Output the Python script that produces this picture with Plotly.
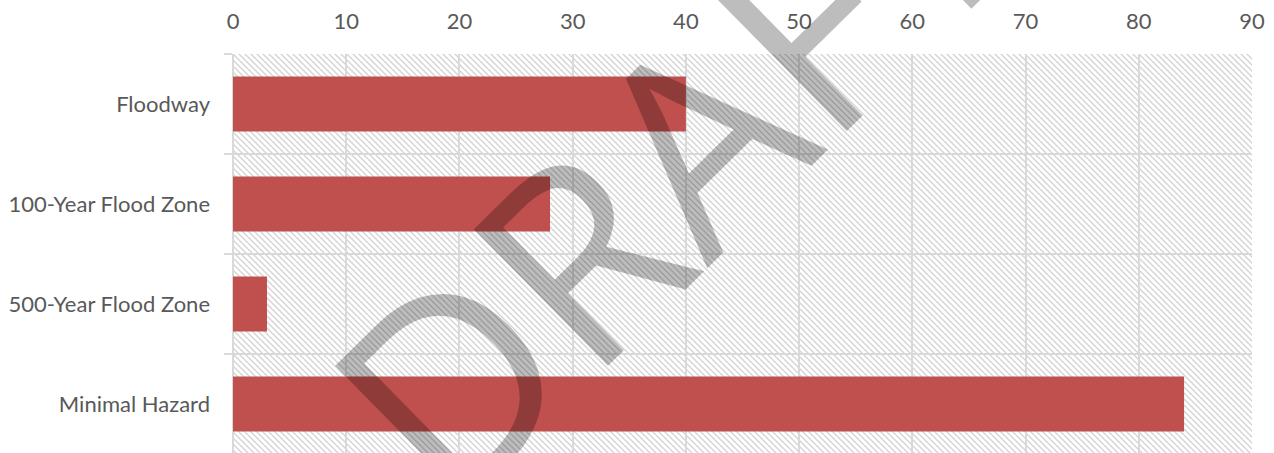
import base64
import plotly.graph_objects as go

# Mapped area by flood hazard category
categories = ["Floodway", "100-Year Flood Zone", "500-Year Flood Zone", "Minimal Hazard"]
values = [40, 28, 3, 84]
x_ticks = [0, 10, 20, 30, 40, 50, 60, 70, 80, 90]

W, H = 1274, 453
ML, MR, MT, MB = 233, 22, 54, 0
PW, PH = W - ML - MR, H - MT - MB

TEXT = "#595959"
GRID = "#d9d9d9"
BAR = "#c0504d"

# Diagonal hatch used as the plot-area fill
hatch_svg = f"""<svg xmlns='http://www.w3.org/2000/svg' width='{PW}' height='{PH}'>
<defs><pattern id='h' width='6' height='6' patternUnits='userSpaceOnUse'>
<path d='M0,0 L6,6 M-1,5 L1,7 M5,-1 L7,1' stroke='#d2d2d2' stroke-width='1.3'/>
</pattern></defs>
<rect width='100%' height='100%' fill='white'/>
<rect width='100%' height='100%' fill='url(#h)'/>
</svg>"""
hatch_src = "data:image/svg+xml;base64," + base64.b64encode(hatch_svg.encode()).decode()

fig = go.Figure(
    go.Bar(
        y=categories,
        x=values,
        orientation="h",
        width=0.55,
        marker=dict(color=BAR, line=dict(width=0)),
        hoverinfo="x+y",
    )
)

fig.update_layout(
    width=W,
    height=H,
    margin=dict(l=ML, r=MR, t=MT, b=MB, pad=0),
    paper_bgcolor="white",
    plot_bgcolor="rgba(0,0,0,0)",
    showlegend=False,
    font=dict(family="Lato, 'Open Sans', sans-serif", size=22, color=TEXT),
    images=[
        dict(
            source=hatch_src,
            xref="paper",
            yref="paper",
            x=0,
            y=1,
            sizex=1,
            sizey=1,
            xanchor="left",
            yanchor="top",
            sizing="stretch",
            layer="below",
        )
    ],
    annotations=[
        dict(
            text="DRAFT",
            xref="paper",
            yref="paper",
            x=(668 - ML) / PW,
            y=(H - 161) / PH,
            showarrow=False,
            textangle=-44.5,
            font=dict(family="'Open Sans', sans-serif", size=268, weight=380,
                      color="rgba(0,0,0,0.26)"),
            xanchor="center",
            yanchor="middle",
        )
    ],
)

fig.update_xaxes(
    side="top",
    range=[0, 90],
    tickvals=x_ticks,
    ticktext=[str(t) for t in x_ticks],
    showgrid=True,
    gridcolor=GRID,
    gridwidth=1.5,
    zeroline=True,
    zerolinecolor=GRID,
    zerolinewidth=1.5,
    showline=False,
    ticks="",
    ticklabelstandoff=20,
    tickfont=dict(size=22, color=TEXT),
    fixedrange=True,
)

fig.update_yaxes(
    type="category",
    categoryorder="array",
    categoryarray=categories,
    range=[3.49, -0.5],
    tickson="boundaries",
    ticks="outside",
    ticklen=8,
    tickwidth=1.5,
    tickcolor=GRID,
    showgrid=True,
    gridcolor=GRID,
    gridwidth=1.5,
    showline=False,
    ticklabelstandoff=22,
    tickfont=dict(size=22, color=TEXT),
    fixedrange=True,
)

fig.write_html("out.html")
